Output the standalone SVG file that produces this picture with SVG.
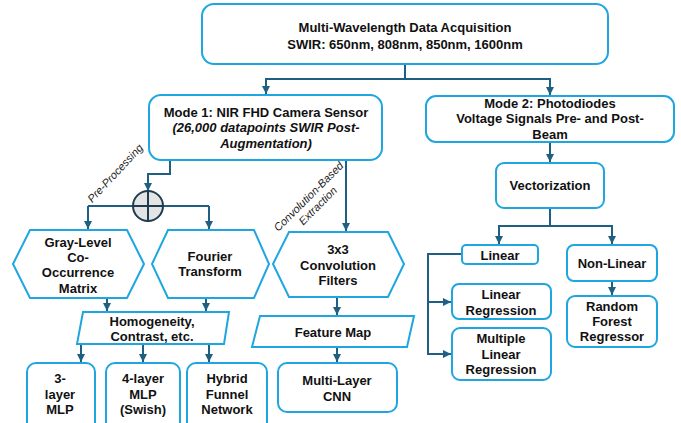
<svg xmlns="http://www.w3.org/2000/svg" width="681" height="423" viewBox="0 0 681 423">
<style>
.n{fill:#fff;stroke:#1ea6e0;stroke-width:2}
.t{font-family:"Liberation Sans",Arial,sans-serif;font-size:13px;font-weight:bold;fill:#111;text-anchor:middle}
.i{font-style:italic}
.c{fill:none;stroke:#1f5f82;stroke-width:2}
.lb{font-family:"Liberation Sans",Arial,sans-serif;font-size:11px;font-style:italic;fill:#222;text-anchor:middle}
</style>
<defs>
<marker id="a" markerUnits="userSpaceOnUse" markerWidth="9" markerHeight="9" refX="8" refY="4" orient="auto">
<path d="M0,0 L8,4 L0,8 z" fill="#1f5f82"/>
</marker>
</defs>
<g id="connectors">
<path class="c" d="M405,64 V79 H266 V94" marker-end="url(#a)"/>
<path class="c" d="M405,79 H550 V95" marker-end="url(#a)"/>
<path class="c" d="M170,160 V174 H148 V191" marker-end="url(#a)"/>
<path class="c" d="M88,206 H209 M88,206 V229" marker-end="url(#a)"/>
<path class="c" d="M209,206 V229" marker-end="url(#a)"/>
<path class="c" d="M346,160 V231" marker-end="url(#a)"/>
<path class="c" d="M107,298 V311" marker-end="url(#a)"/>
<path class="c" d="M206,298 V311" marker-end="url(#a)"/>
<path class="c" d="M337,297 V315" marker-end="url(#a)"/>
<path class="c" d="M81,344 V362" marker-end="url(#a)"/>
<path class="c" d="M143,344 V362" marker-end="url(#a)"/>
<path class="c" d="M209,344 V362" marker-end="url(#a)"/>
<path class="c" d="M337,347 V362" marker-end="url(#a)"/>
<path class="c" d="M550,142 V162" marker-end="url(#a)"/>
<path class="c" d="M550,208 V226 H499 V244" marker-end="url(#a)"/>
<path class="c" d="M550,226 H612 V244" marker-end="url(#a)"/>
<path class="c" d="M612,281 V295" marker-end="url(#a)"/>
<path class="c" d="M462,254 H428 V354 H451" marker-end="url(#a)"/>
<path class="c" d="M428,302 H451" marker-end="url(#a)"/>
<text class="lb" transform="translate(115,173) rotate(-47)" y="4">Pre-Processing</text>
<text class="lb" transform="translate(313,201) rotate(-45)"><tspan x="0" y="-2.5">Convolution-Based</tspan><tspan x="0" y="10.5">Extraction</tspan></text>
</g>
<g id="junction">
<circle cx="148" cy="206" r="15" fill="#e4e4e4" stroke="#1c3d4f" stroke-width="2"/>
<path d="M133,206 H163 M148,191 V221" stroke="#1c3d4f" stroke-width="2"/>
</g>
<g id="acquisition">
<rect class="n" x="202" y="4" width="406" height="60" rx="12"/>
<text class="t" x="405" y="31.5">Multi-Wavelength Data Acquisition</text>
<text class="t" x="405" y="48.5">SWIR: 650nm, 808nm, 850nm, 1600nm</text>
</g>
<g id="mode1">
<rect class="n" x="149" y="95" width="233" height="65" rx="12"/>
<text class="t" x="266" y="116.5">Mode 1: NIR FHD Camera Sensor</text>
<text class="t i" x="266" y="131.5">(26,000 datapoints SWIR Post-</text>
<text class="t i" x="266" y="147.5">Augmentation)</text>
</g>
<g id="mode2">
<rect class="n" x="426" y="96" width="248" height="46" rx="10"/>
<text class="t" x="550" y="107.5">Mode 2: Photodiodes</text>
<text class="t" x="550" y="122.5">Voltage Signals Pre- and Post-</text>
<text class="t" x="550" y="138.5">Beam</text>
</g>
<g id="vectorization">
<rect class="n" x="496" y="163" width="108" height="45" rx="8"/>
<text class="t" x="550" y="189.5">Vectorization</text>
</g>
<g id="linear">
<rect class="n" x="462" y="245" width="76" height="19" rx="4"/>
<text class="t" x="500" y="259.5">Linear</text>
</g>
<g id="nonlinear">
<rect class="n" x="567" y="245" width="90" height="36" rx="7"/>
<text class="t" x="612" y="267.5">Non-Linear</text>
</g>
<g id="randomforest">
<rect class="n" x="567" y="296" width="90" height="51" rx="8"/>
<text class="t" x="612" y="310.5">Random</text>
<text class="t" x="612" y="325.5">Forest</text>
<text class="t" x="612" y="340.5">Regressor</text>
</g>
<g id="linreg">
<rect class="n" x="452" y="284" width="99" height="35" rx="7"/>
<text class="t" x="501" y="298.5">Linear</text>
<text class="t" x="501" y="314.5">Regression</text>
</g>
<g id="mlr">
<rect class="n" x="452" y="328" width="99" height="52" rx="8"/>
<text class="t" x="501" y="342.5">Multiple</text>
<text class="t" x="501" y="358.5">Linear</text>
<text class="t" x="501" y="373.5">Regression</text>
</g>
<g id="glcm">
<polygon class="n" points="13,264 30,230 127,230 144,264 127,298 30,298"/>
<text class="t" x="78" y="246.5">Gray-Level</text>
<text class="t" x="78" y="261.5">Co-</text>
<text class="t" x="78" y="276.5">Occurrence</text>
<text class="t" x="78" y="292.5">Matrix</text>
</g>
<g id="fourier">
<polygon class="n" points="152,264 168,230 254,230 269,264 254,298 168,298"/>
<text class="t" x="210" y="260.5">Fourier</text>
<text class="t" x="210" y="275.5">Transform</text>
</g>
<g id="conv">
<polygon class="n" points="273,264 289,232 388,232 404,264 388,297 289,297"/>
<text class="t" x="338" y="253.5">3x3</text>
<text class="t" x="338" y="269.5">Convolution</text>
<text class="t" x="338" y="284.5">Filters</text>
</g>
<g id="homogeneity">
<polygon class="n" points="83,312 229,312 224,344 77,344"/>
<text class="t" x="152" y="325.5">Homogeneity,</text>
<text class="t" x="152" y="340.5">Contrast, etc.</text>
</g>
<g id="featuremap">
<polygon class="n" points="260,316 414,316 407,347 252,347"/>
<text class="t" x="333" y="336.5">Feature Map</text>
</g>
<g id="mlp3">
<rect class="n" x="27" y="363" width="68" height="70" rx="9"/>
<text class="t" x="60" y="382.5">3-</text>
<text class="t" x="60" y="398.5">layer</text>
<text class="t" x="60" y="413.5">MLP</text>
</g>
<g id="mlp4">
<rect class="n" x="106" y="363" width="74" height="70" rx="9"/>
<text class="t" x="143" y="382.5">4-layer</text>
<text class="t" x="143" y="398.5">MLP</text>
<text class="t" x="143" y="413.5">(Swish)</text>
</g>
<g id="hybrid">
<rect class="n" x="187" y="363" width="80" height="70" rx="9"/>
<text class="t" x="227" y="382.5">Hybrid</text>
<text class="t" x="227" y="398.5">Funnel</text>
<text class="t" x="227" y="413.5">Network</text>
</g>
<g id="cnn">
<rect class="n" x="278" y="363" width="119" height="49" rx="9"/>
<text class="t" x="337" y="384.5">Multi-Layer</text>
<text class="t" x="337" y="400.5">CNN</text>
</g>
</svg>
